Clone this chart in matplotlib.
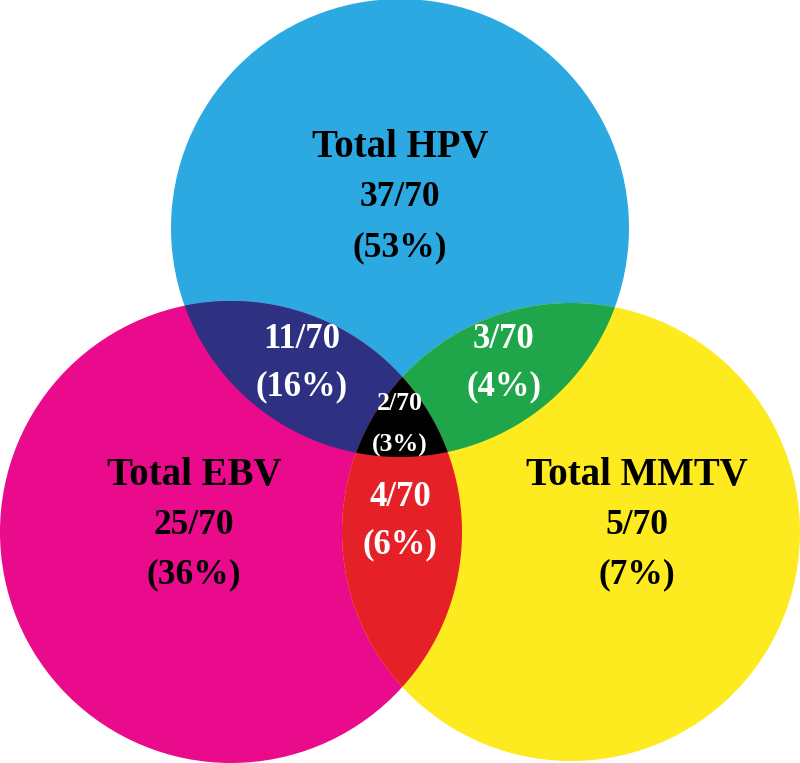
import numpy as np
import matplotlib
matplotlib.use("Agg")
import matplotlib.pyplot as plt
from matplotlib.patches import Circle, Polygon

# data
total = 70
sets = ["HPV", "EBV", "MMTV"]
set_counts = [37, 25, 5]
pair_names = [("HPV", "EBV"), ("HPV", "MMTV"), ("EBV", "MMTV")]
pair_counts = [11, 3, 4]
all_count = 2

# layout (pixels, y down)
circles = {"HPV": (400, 228, 229), "EBV": (231, 532, 231), "MMTV": (571, 532, 229)}
set_colors = {"HPV": "#2DA9E1", "EBV": "#EA0A8C", "MMTV": "#FDEA1F"}
pair_colors = ["#2E3182", "#1FA64A", "#E62027"]
all_color = "#000000"

set_pos = {"HPV": (400, 148), "EBV": (194, 475), "MMTV": (637, 475)}
pair_pos = [(302, 340), (504, 340), (400, 498)]
all_pos = (400, 404)

def pct(n):
    return "(%d%%)" % round(100 * n / total)

def region(names):
    pts = []
    th = np.linspace(0, 2 * np.pi, 2000, endpoint=False)
    for n in names:
        cx, cy, r = circles[n]
        x = cx + r * np.cos(th)
        y = cy + r * np.sin(th)
        keep = np.ones_like(x, dtype=bool)
        for m in names:
            if m == n:
                continue
            mx, my, mr = circles[m]
            keep &= (x - mx) ** 2 + (y - my) ** 2 <= mr ** 2 + 1e-6
        pts.append(np.column_stack([x[keep], y[keep]]))
    pts = np.vstack(pts)
    c = pts.mean(axis=0)
    order = np.argsort(np.arctan2(pts[:, 1] - c[1], pts[:, 0] - c[0]))
    return pts[order]

fig = plt.figure(figsize=(8, 7.63), dpi=100)
ax = fig.add_axes([0, 0, 1, 1])
ax.set_xlim(0, 800)
ax.set_ylim(763, 0)
ax.set_aspect("equal")
ax.axis("off")

for n in sets:
    cx, cy, r = circles[n]
    ax.add_patch(Circle((cx, cy), r, color=set_colors[n], lw=0))

for names, col in zip(pair_names, pair_colors):
    ax.add_patch(Polygon(region(names), closed=True, color=col, lw=0))
ax.add_patch(Polygon(region(sets), closed=True, color=all_color, lw=0))

font = dict(family="Liberation Serif", weight="bold", ha="center", va="center")
gap = 50

for n, cnt in zip(sets, set_counts):
    x, y = set_pos[n]
    ax.text(x, y, "Total " + n, fontsize=28, color="black", **font)
    ax.text(x, y + gap, "%d/%d" % (cnt, total), fontsize=25.5, color="black", **font)
    ax.text(x, y + 2 * gap, pct(cnt), fontsize=25.5, color="black", **font)

for (x, y), cnt in zip(pair_pos, pair_counts):
    ax.text(x, y, "%d/%d" % (cnt, total), fontsize=25, color="white", **font)
    ax.text(x, y + 47, pct(cnt), fontsize=25, color="white", **font)

x, y = all_pos
ax.text(x, y, "%d/%d" % (all_count, total), fontsize=18.5, color="white", **font)
ax.text(x, y + 41, pct(all_count), fontsize=18.5, color="white", **font)

plt.savefig("out.png", dpi=100)
